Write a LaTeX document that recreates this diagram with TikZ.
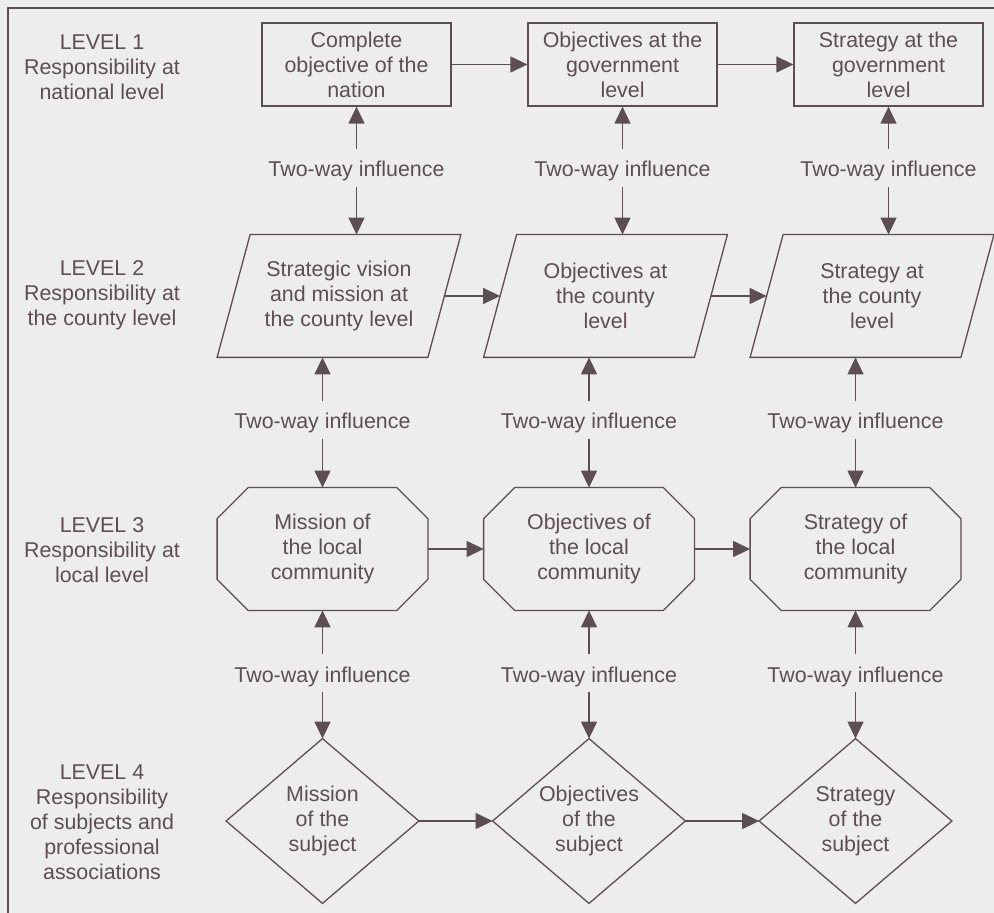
\documentclass[tikz,border=0pt]{standalone}
\usepackage{fontspec}
\setmainfont{Liberation Sans}
\usetikzlibrary{arrows.meta,calc}
\definecolor{ink}{RGB}{92,78,84}
\definecolor{paper}{RGB}{237,236,238}
\begin{document}
\begin{tikzpicture}[x=0.5pt,y=-0.5pt,
  font=\fontsize{10.7pt}{12.5pt}\selectfont,
  every node/.style={text=ink, align=center, inner sep=0pt},
  ln/.style={draw=ink, line width=0.65pt},
  arr/.style={ln, -{Triangle[length=8.5pt,width=8pt]}},
  boxnode/.style={draw=ink, line width=0.65pt, rectangle, minimum width=94.5pt, minimum height=41.5pt},
  pgnode/.style={rectangle, minimum width=121.5pt, minimum height=61pt},
  ocnode/.style={rectangle, minimum width=105pt, minimum height=61pt},
  dmnode/.style={rectangle, minimum width=96pt, minimum height=82pt},
  twoway/.style={text height=14pt, text depth=5pt, anchor=base},
  lvl/.style={align=center}
]
\fill[paper] (0,0) rectangle (994,913);
\useasboundingbox (0,0) rectangle (994,913);
% frame
\draw[ln, line width=0.6pt] (994,8) -- (8,8) -- (8,913);

% level labels
\node[lvl] (l1) at (102,67) {LEVEL 1\\Responsibility at\\national level};
\node[lvl] (l2) at (102,295) {LEVEL 2\\Responsibility at\\the county level};
\node[lvl] (l3) at (102,550) {LEVEL 3\\Responsibility at\\local level};
\node[lvl] (l4) at (102,822) {LEVEL 4\\Responsibility\\of subjects and\\professional\\associations};

% level 1 boxes
\node[boxnode] (b1) at (356.5,64.5) {Complete\\objective of the\\nation};
\node[boxnode] (b2) at (622.5,64.5) {Objectives at the\\government\\level};
\node[boxnode] (b3) at (888.5,64.5) {Strategy at the\\government\\level};

% level 2 parallelograms
\node[pgnode] (pg1) at (339,296) {Strategic vision\\and mission at\\the county level};
\node[pgnode] (pg2) at (605.5,296) {Objectives at\\the county\\level};
\node[pgnode] (pg3) at (872,296) {Strategy at\\the county\\level};
\foreach \p in {pg1,pg2,pg3}{
  \draw[ln] (\p.south west) -- ($(\p.south east)+(-33,0)$) -- (\p.north east)
    -- ($(\p.north west)+(33,0)$) -- cycle;
}

% level 3 octagons
\node[ocnode] (oc1) at (322.5,549) {Mission of\\the local\\community};
\node[ocnode] (oc2) at (589,549) {Objectives of\\the local\\community};
\node[ocnode] (oc3) at (855.5,549) {Strategy of\\the local\\community};
\foreach \o in {oc1,oc2,oc3}{
  \draw[ln] ($(\o.north west)+(31,0)$) -- ($(\o.north east)+(-31,0)$)
    -- ($(\o.north east)+(0,31)$) -- ($(\o.south east)+(0,-31)$)
    -- ($(\o.south east)+(-31,0)$) -- ($(\o.south west)+(31,0)$)
    -- ($(\o.south west)+(0,-31)$) -- ($(\o.north west)+(0,31)$) -- cycle;
}

% level 4 diamonds
\node[dmnode] (dm1) at (322.5,821) {Mission\\of the\\subject};
\node[dmnode] (dm2) at (589,821) {Objectives\\of the\\subject};
\node[dmnode] (dm3) at (855.5,821) {Strategy\\of the\\subject};
\foreach \d in {dm1,dm2,dm3}{
  \draw[ln] (\d.north) -- (\d.east) -- (\d.south) -- (\d.west) -- cycle;
}

% horizontal arrows
\draw[arr] (b1.east) -- (b2.west);
\draw[arr] (b2.east) -- (b3.west);
\draw[arr] ($(pg1.east)+(-16.5,0)$) -- ($(pg2.west)+(16.5,0)$);
\draw[arr] ($(pg2.east)+(-16.5,0)$) -- ($(pg3.west)+(16.5,0)$);
\draw[arr] (oc1.east) -- (oc2.west);
\draw[arr] (oc2.east) -- (oc3.west);
\draw[arr] (dm1.east) -- (dm2.west);
\draw[arr] (dm2.east) -- (dm3.west);

% two-way influence labels, row 1
\node[twoway] (t11) at (356.5,177) {Two-way influence};
\node[twoway] (t12) at (622.5,177) {Two-way influence};
\node[twoway] (t13) at (888.5,177) {Two-way influence};
% row 2
\node[twoway] (t21) at (322.5,429) {Two-way influence};
\node[twoway] (t22) at (589,429) {Two-way influence};
\node[twoway] (t23) at (855.5,429) {Two-way influence};
% row 3
\node[twoway] (t31) at (322.5,682) {Two-way influence};
\node[twoway] (t32) at (589,682) {Two-way influence};
\node[twoway] (t33) at (855.5,682) {Two-way influence};

% vertical arrows
\draw[arr] (t11.north) -- (t11.north |- b1.south);
\draw[arr] (t12.north) -- (t12.north |- b2.south);
\draw[arr] (t13.north) -- (t13.north |- b3.south);
\draw[arr] (t11.south) -- (t11.south |- pg1.north);
\draw[arr] (t12.south) -- (t12.south |- pg2.north);
\draw[arr] (t13.south) -- (t13.south |- pg3.north);

\draw[arr] (t21.north) -- (t21.north |- pg1.south);
\draw[arr] (t22.north) -- (t22.north |- pg2.south);
\draw[arr] (t23.north) -- (t23.north |- pg3.south);
\draw[arr] (t21.south) -- (t21.south |- oc1.north);
\draw[arr] (t22.south) -- (t22.south |- oc2.north);
\draw[arr] (t23.south) -- (t23.south |- oc3.north);

\draw[arr] (t31.north) -- (t31.north |- oc1.south);
\draw[arr] (t32.north) -- (t32.north |- oc2.south);
\draw[arr] (t33.north) -- (t33.north |- oc3.south);
\draw[arr] (t31.south) -- (t31.south |- dm1.north);
\draw[arr] (t32.south) -- (t32.south |- dm2.north);
\draw[arr] (t33.south) -- (t33.south |- dm3.north);
\end{tikzpicture}
\end{document}
